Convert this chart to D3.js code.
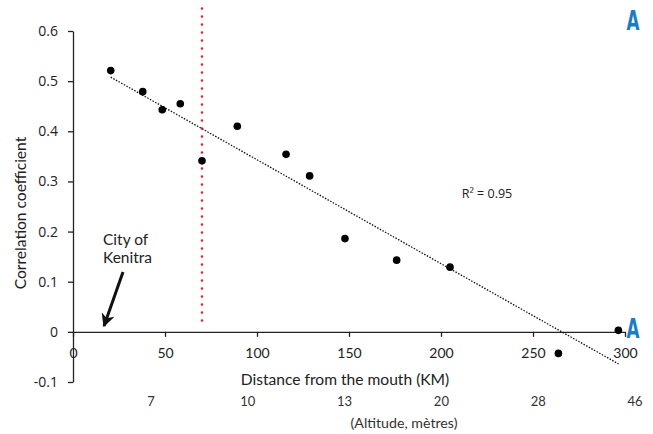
<!DOCTYPE html>
<html>
<head>
<meta charset="utf-8">
<script src="https://cdn.jsdelivr.net/npm/d3@7"></script>
<style>
  body { margin: 0; background: #fff; }
  .geo { font-family: "Lato", "Open Sans", sans-serif; fill: #222; }
  .cal { font-family: "Open Sans", "Liberation Sans", sans-serif; fill: #222; }
  .axis path, .axis line { stroke: #222; stroke-width: 1.3; }
</style>
</head>
<body>
<svg id="chart"></svg>
<script>
var W = 653, H = 434;

// distance from the mouth (km) and correlation coefficient
var distKm = [20.5, 37.9, 48.5, 58.3, 70.1, 89.3, 115.8, 128.6, 147.8, 175.9, 204.9, 263.8, 296.4];
var corr   = [0.521, 0.479, 0.443, 0.455, 0.341, 0.410, 0.354, 0.311, 0.186, 0.143, 0.129, -0.043, 0.003];

// linear trend line ends
var trendX = [20.5, 296.5];
var trendY = [0.508, -0.064];

var xTicks = [0, 50, 100, 150, 200, 250, 300];
var yTicks = [-0.1, 0, 0.1, 0.2, 0.3, 0.4, 0.5, 0.6];
var altLabels = ["7", "10", "13", "20", "28", "46"];

var cityKm = 70.1;   // red dotted marker
var r2Text = "R² = 0.95";

var svg = d3.select("#chart").attr("width", W).attr("height", H);

var x = d3.scaleLinear().domain([0, 300]).range([73, 625]);
var y = d3.scaleLinear().domain([-0.1, 0.6]).range([382, 31]);
var alt = d3.scalePoint().domain(altLabels).range([151, 635]);

// y axis
var yAxis = svg.append("g")
    .attr("class", "axis")
    .attr("transform", "translate(" + x(0) + ",0)")
    .call(d3.axisLeft(y)
        .tickValues(yTicks)
        .tickSize(5)
        .tickSizeOuter(0)
        .tickPadding(10)
        .tickFormat(function(d) { return String(+d.toFixed(1)); }));
yAxis.selectAll("text").attr("class", "cal").style("font-size", "14px");

// x axis at y = 0
var xAxis = svg.append("g")
    .attr("class", "axis")
    .attr("transform", "translate(0," + y(0) + ")")
    .call(d3.axisBottom(x)
        .tickValues(xTicks)
        .tickSize(5)
        .tickSizeOuter(0)
        .tickPadding(11));
xAxis.selectAll("text").attr("class", "geo").style("font-size", "14px");

// altitude row
svg.selectAll(".alt")
    .data(altLabels)
    .enter().append("text")
    .attr("class", "geo alt")
    .attr("x", function(d) { return alt(d); })
    .attr("y", 406)
    .attr("text-anchor", "middle")
    .style("font-size", "13px")
    .style("fill", "#333")
    .text(function(d) { return d; });

// axis titles
svg.append("text")
    .attr("class", "geo")
    .attr("x", 345).attr("y", 385)
    .attr("text-anchor", "middle")
    .style("font-size", "15.6px")
    .text("Distance from the mouth (KM)");

svg.append("text")
    .attr("class", "geo")
    .attr("x", 404).attr("y", 428)
    .attr("text-anchor", "middle")
    .style("font-size", "14.2px")
    .style("fill", "#333")
    .text("(Altitude, mètres)");

svg.append("text")
    .attr("class", "geo")
    .attr("transform", "translate(26,213) rotate(-90)")
    .attr("text-anchor", "middle")
    .style("font-size", "15.6px")
    .text("Correlation coefficient");

// red dotted marker
svg.append("line")
    .attr("x1", x(cityKm)).attr("x2", x(cityKm))
    .attr("y1", y(0.645)).attr("y2", y(0.01))
    .attr("stroke", "#e0202a")
    .attr("stroke-width", 2.6)
    .attr("stroke-linecap", "round")
    .attr("stroke-dasharray", "0,8");

// trend line
svg.append("line")
    .attr("x1", x(trendX[0])).attr("y1", y(trendY[0]))
    .attr("x2", x(trendX[1])).attr("y2", y(trendY[1]))
    .attr("stroke", "#111")
    .attr("stroke-width", 1.3)
    .attr("stroke-dasharray", "1.5,1.5");

// points
svg.selectAll(".dot")
    .data(distKm)
    .enter().append("circle")
    .attr("class", "dot")
    .attr("cx", function(d) { return x(d); })
    .attr("cy", function(d, i) { return y(corr[i]); })
    .attr("r", 3.8)
    .attr("fill", "#000");

svg.append("text")
    .attr("class", "cal")
    .attr("x", 487).attr("y", 198)
    .attr("text-anchor", "middle")
    .style("font-size", "12.5px")
    .text(r2Text);

// City of Kenitra annotation
var city = svg.append("text")
    .attr("class", "geo")
    .attr("x", 103).attr("y", 245)
    .style("font-size", "15.5px");
city.append("tspan").attr("x", 103).text("City of");
city.append("tspan").attr("x", 103).attr("dy", 18).text("Kenitra");

svg.append("defs").append("marker")
    .attr("id", "head")
    .attr("viewBox", "0 0 10 10")
    .attr("refX", 9).attr("refY", 5)
    .attr("markerWidth", 5.5).attr("markerHeight", 4.5)
    .attr("orient", "auto")
  .append("path")
    .attr("d", "M0,0 L10,5 L0,10 L3,5 Z")
    .attr("fill", "#111");

svg.append("line")
    .attr("x1", 123).attr("y1", 272)
    .attr("x2", 104).attr("y2", 326)
    .attr("stroke", "#111")
    .attr("stroke-width", 3)
    .attr("marker-end", "url(#head)");

// blue "A" marks
[[633, 30], [633, 338]].forEach(function(p) {
    svg.append("text")
        .attr("x", p[0]).attr("y", p[1])
        .attr("text-anchor", "middle")
        .attr("transform", "translate(" + p[0] + ",0) scale(0.62,1) translate(" + (-p[0]) + ",0)")
        .style("font-family", "'DejaVu Sans', sans-serif")
        .style("font-weight", "bold")
        .style("font-size", "27px")
        .style("fill", "#1a7dc4")
        .text("A");
});
</script>
</body>
</html>
